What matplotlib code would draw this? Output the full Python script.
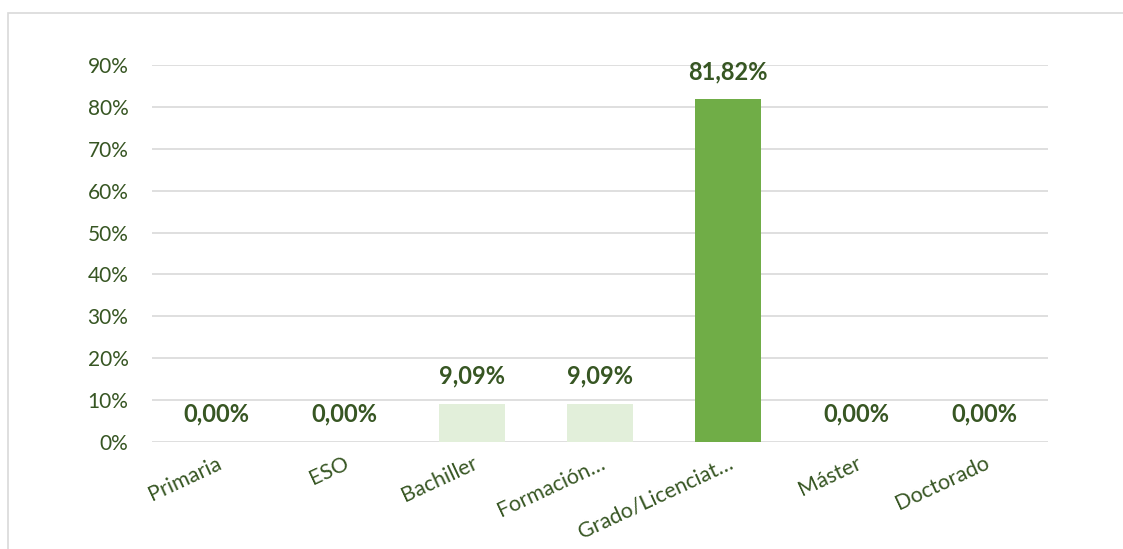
import matplotlib.pyplot as plt
from matplotlib.patches import Rectangle

categories = ["Primaria", "ESO", "Bachiller", "Formación…", "Grado/Licenciat…", "Máster", "Doctorado"]
values = [0.00, 0.00, 9.09, 9.09, 81.82, 0.00, 0.00]
labels = ["0,00%", "0,00%", "9,09%", "9,09%", "81,82%", "0,00%", "0,00%"]
colors = ["#E2EFDA", "#E2EFDA", "#E2EFDA", "#E2EFDA", "#70AD47", "#E2EFDA", "#E2EFDA"]

text_color = "#375623"
plt.rcParams["font.family"] = ["Lato", "DejaVu Sans"]

fig = plt.figure(figsize=(11.23, 5.49), dpi=100)
ax = fig.add_axes([152 / 1123, 1 - 442 / 549, (1048 - 152) / 1123, (442 - 65) / 549])

# chart border
fig.patches.append(Rectangle((8 / 1123, -0.05), 1.1, 1 - 13 / 549 + 0.05, transform=fig.transFigure,
                             fill=False, edgecolor="#D9D9D9", linewidth=1.2))

x = range(len(categories))
ax.bar(x, values, width=0.51, color=colors, zorder=3)

for i, (v, lab) in enumerate(zip(values, labels)):
    ax.annotate(lab, (i, v), xytext=(0, 20), textcoords="offset points", ha="center", va="center",
                fontsize=17, fontweight="bold", color=text_color, zorder=4)

ax.set_xlim(-0.5, len(categories) - 0.5)
ax.set_ylim(0, 90)
ax.set_yticks(range(0, 91, 10))
ax.set_yticklabels([f"{t}%" for t in range(0, 91, 10)], fontsize=15, color=text_color)
ax.set_xticks(list(x))
ax.set_xticklabels(categories, rotation=25, ha="right", rotation_mode="anchor",
                   fontsize=15.5, color=text_color)

ax.yaxis.grid(True, color="#D9D9D9", linewidth=1.2, zorder=0)
ax.tick_params(axis="both", length=0)
ax.tick_params(axis="y", pad=17)
ax.tick_params(axis="x", pad=8)
for s in ax.spines.values():
    s.set_visible(False)

fig.savefig("out.png", dpi=100)
